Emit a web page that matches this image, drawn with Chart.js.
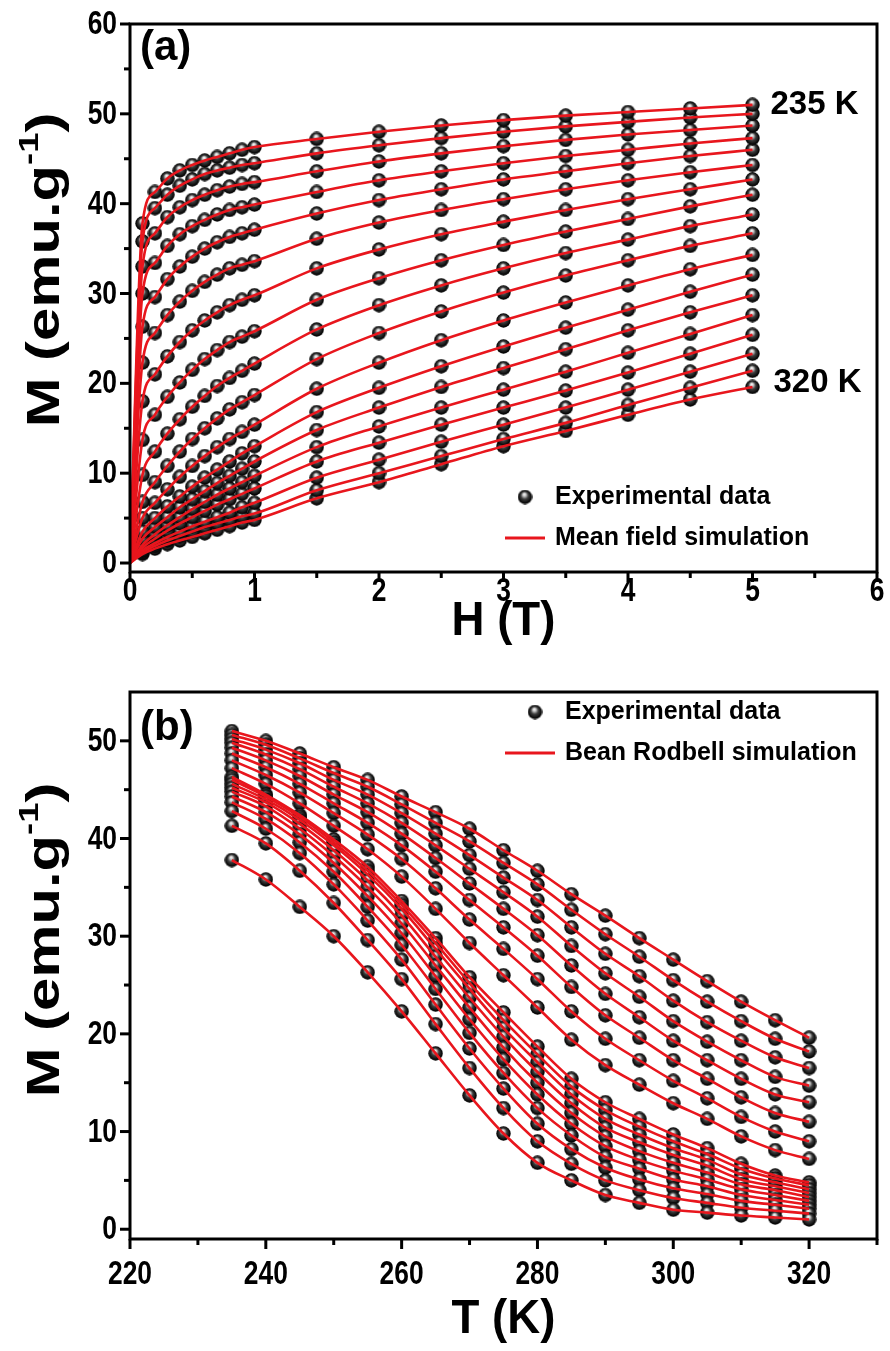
<!DOCTYPE html>
<html>
<head>
<meta charset="utf-8">
<script src="https://cdn.jsdelivr.net/npm/chart.js@4.4.0/dist/chart.umd.min.js"></script>
<style>
  html, body { margin: 0; padding: 0; background: #fff; }
  #wrap { position: relative; width: 890px; height: 1351px; }
  .panel { position: absolute; left: 0; width: 890px; }
  #panelA { top: 0; height: 650px; }
  #panelB { top: 650px; height: 701px; }
</style>
</head>
<body>
<div id="wrap">
  <div class="panel" id="panelA"><canvas id="chartA" width="890" height="650"></canvas></div>
  <div class="panel" id="panelB"><canvas id="chartB" width="890" height="701"></canvas></div>
</div>
<script>
    // applied field (T) and temperature (K) grids
    const fields = [0.1, 0.2, 0.3, 0.4, 0.5, 0.6, 0.7, 0.8, 0.9, 1.0, 1.5, 2.0, 2.5, 3.0, 3.5, 4.0, 4.5, 5.0];
    const temperatures = [235, 240, 245, 250, 255, 260, 265, 270, 275, 280, 285, 290, 295, 300, 305, 310, 315, 320];

    // magnetization (emu/g) for each isotherm, one value per field
    const m235 = [37.8, 41.3, 42.8, 43.7, 44.3, 44.8, 45.2, 45.6, 46.0, 46.3, 47.2, 48.0, 48.7, 49.3, 49.8, 50.2, 50.6, 51.0];
    const m240 = [35.8, 39.5, 41.0, 42.0, 42.7, 43.3, 43.7, 44.0, 44.3, 44.5, 45.6, 46.5, 47.3, 48.0, 48.6, 49.1, 49.6, 50.0];
    const m245 = [33.0, 36.7, 38.5, 39.6, 40.4, 41.0, 41.5, 41.9, 42.2, 42.4, 43.6, 44.7, 45.6, 46.4, 47.1, 47.7, 48.2, 48.7];
    const m250 = [30.0, 33.4, 35.3, 36.6, 37.5, 38.2, 38.8, 39.3, 39.6, 39.9, 41.3, 42.6, 43.6, 44.5, 45.3, 46.0, 46.7, 47.3];
    const m255 = [26.3, 29.6, 31.6, 33.0, 34.1, 35.0, 35.7, 36.3, 36.7, 37.1, 38.9, 40.4, 41.6, 42.7, 43.6, 44.5, 45.3, 46.0];
    const m260 = [22.3, 25.6, 27.6, 29.1, 30.3, 31.3, 32.1, 32.8, 33.2, 33.6, 36.1, 37.9, 39.3, 40.5, 41.6, 42.6, 43.5, 44.3];
    const m265 = [18.0, 21.0, 23.0, 24.6, 25.9, 27.0, 27.9, 28.7, 29.3, 29.8, 32.8, 34.9, 36.6, 38.0, 39.3, 40.5, 41.6, 42.7];
    const m270 = [13.7, 16.5, 18.5, 20.1, 21.5, 22.7, 23.7, 24.6, 25.2, 25.8, 29.3, 31.7, 33.7, 35.4, 36.9, 38.3, 39.7, 41.0];
    const m275 = [9.8, 12.4, 14.4, 16.0, 17.4, 18.6, 19.7, 20.6, 21.4, 22.2, 26.0, 28.7, 30.9, 32.8, 34.5, 36.0, 37.5, 38.8];
    const m280 = [6.8, 9.0, 10.8, 12.4, 13.8, 15.0, 16.1, 17.1, 17.9, 18.7, 22.7, 25.6, 28.0, 30.1, 32.0, 33.7, 35.3, 36.7];
    const m285 = [5.0, 6.7, 8.2, 9.6, 10.8, 11.9, 12.9, 13.8, 14.6, 15.4, 19.4, 22.3, 24.8, 27.0, 29.0, 30.9, 32.7, 34.3];
    const m290 = [3.5, 5.0, 6.3, 7.4, 8.5, 9.5, 10.4, 11.3, 12.2, 13.0, 16.8, 19.5, 21.9, 24.1, 26.2, 28.2, 30.2, 32.1];
    const m295 = [2.7, 4.0, 5.1, 6.2, 7.1, 8.0, 8.9, 9.7, 10.5, 11.3, 14.8, 17.3, 19.6, 21.7, 23.8, 25.9, 27.9, 29.8];
    const m300 = [2.0, 3.2, 4.2, 5.1, 6.0, 6.8, 7.6, 8.3, 9.0, 9.7, 12.9, 15.2, 17.3, 19.3, 21.3, 23.4, 25.5, 27.6];
    const m305 = [1.7, 2.7, 3.6, 4.4, 5.1, 5.8, 6.5, 7.1, 7.7, 8.3, 11.3, 13.4, 15.4, 17.3, 19.2, 21.2, 23.3, 25.4];
    const m310 = [1.4, 2.2, 2.9, 3.5, 4.1, 4.6, 5.1, 5.6, 6.2, 6.7, 9.5, 11.5, 13.5, 15.4, 17.3, 19.3, 21.3, 23.3];
    const m315 = [1.2, 1.9, 2.5, 3.0, 3.5, 4.0, 4.4, 4.8, 5.2, 5.5, 8.1, 10.0, 11.9, 13.8, 15.6, 17.6, 19.5, 21.4];
    const m320 = [1.0, 1.6, 2.1, 2.5, 2.9, 3.3, 3.7, 4.1, 4.5, 4.8, 7.2, 9.0, 11.0, 13.0, 14.7, 16.5, 18.2, 19.6];

    // axis ticks
    const hTicks = [0, 0.5, 1, 1.5, 2, 2.5, 3, 3.5, 4, 4.5, 5, 5.5, 6];
    const mTicksA = [0, 5, 10, 15, 20, 25, 30, 35, 40, 45, 50, 55, 60];
    const tTicks = [220, 230, 240, 250, 260, 270, 280, 290, 300, 310, 320, 330];
    const mTicksB = [0, 5, 10, 15, 20, 25, 30, 35, 40, 45, 50];

    const isotherms = [m235, m240, m245, m250, m255, m260, m265, m270, m275, m280, m285, m290, m295, m300, m305, m310, m315, m320];

    const RED = '#e8161d';
    const FONT = "'Liberation Sans', Arial, Helvetica, sans-serif";

    // glossy black sphere used as the point marker
    function makeBall(d) {
        const c = document.createElement('canvas');
        c.width = c.height = d;
        const g = c.getContext('2d');
        const r = d / 2;
        const grad = g.createRadialGradient(r * 0.9, r * 0.6, 0, r, r, r);
        grad.addColorStop(0, '#ffffff');
        grad.addColorStop(0.2, '#cfcfcf');
        grad.addColorStop(0.5, '#3c3c3c');
        grad.addColorStop(0.85, '#080808');
        grad.addColorStop(1, '#000000');
        g.fillStyle = grad;
        g.beginPath();
        g.arc(r, r, r - 0.3, 0, Math.PI * 2);
        g.fill();
        return c;
    }
    const ball = makeBall(15);

    function scatterSet(points) {
        return {
            data: points,
            showLine: false,
            pointStyle: ball,
            pointRadius: 7,
            order: 1
        };
    }
    function lineSet(points) {
        return {
            data: points,
            showLine: true,
            borderColor: RED,
            borderWidth: 2.6,
            pointRadius: 0,
            cubicInterpolationMode: 'monotone',
            fill: false,
            order: 0
        };
    }

    // squeezed or stretched text around the anchor point
    function scaledText(ctx, text, x, y, sx) {
        ctx.save();
        ctx.translate(x, y);
        ctx.scale(sx, 1);
        ctx.fillText(text, 0, 0);
        ctx.restore();
    }

    // frame, outward tick marks, tick labels, titles and in-plot text
    function framePlugin(cfg) {
        return {
            id: 'frame',
            afterDraw(chart) {
                const ctx = chart.ctx;
                const a = chart.chartArea;
                const xs = chart.scales.x, ys = chart.scales.y;
                ctx.save();
                ctx.strokeStyle = '#000';
                ctx.fillStyle = '#000';
                ctx.lineWidth = 3;
                ctx.strokeRect(a.left, a.top, a.right - a.left, a.bottom - a.top);

                ctx.font = 'bold 33px ' + FONT;
                ctx.textAlign = 'center';
                ctx.textBaseline = 'middle';
                cfg.xTicks.forEach(v => {
                    const x = xs.getPixelForValue(v);
                    const major = cfg.xMajor(v);
                    ctx.beginPath();
                    ctx.moveTo(x, a.bottom);
                    ctx.lineTo(x, a.bottom + (major ? 10 : 6));
                    ctx.stroke();
                    if (major) scaledText(ctx, String(v), x, a.bottom + cfg.xLabelDy, 0.8);
                });
                ctx.textAlign = 'right';
                cfg.yTicks.forEach(v => {
                    const y = ys.getPixelForValue(v);
                    const major = cfg.yMajor(v);
                    ctx.beginPath();
                    ctx.moveTo(a.left, y);
                    ctx.lineTo(a.left - (major ? 10 : 6), y);
                    ctx.stroke();
                    if (major) scaledText(ctx, String(v), a.left - 13, y + 1, 0.8);
                });

                // x title
                ctx.textAlign = 'center';
                ctx.font = 'bold 48px ' + FONT;
                scaledText(ctx, cfg.xTitle, (a.left + a.right) / 2, cfg.xTitleY, 0.95);

                // y title with superscript, stretched along its length
                ctx.save();
                ctx.translate(42, cfg.yTitleY);
                ctx.rotate(-Math.PI / 2);
                ctx.scale(1.3, 1);
                const main = 'M (emu.g', sup = '-1', close = ')';
                ctx.font = 'bold 46px ' + FONT;
                const w1 = ctx.measureText(main).width;
                const w3 = ctx.measureText(close).width;
                ctx.font = 'bold 28px ' + FONT;
                const w2 = ctx.measureText(sup).width;
                const x0 = -(w1 + w2 + w3) / 2;
                ctx.textAlign = 'left';
                ctx.textBaseline = 'alphabetic';
                ctx.font = 'bold 46px ' + FONT;
                ctx.fillText(main, x0, 17);
                ctx.font = 'bold 28px ' + FONT;
                ctx.fillText(sup, x0 + w1, -4);
                ctx.font = 'bold 46px ' + FONT;
                ctx.fillText(close, x0 + w1 + w2, 17);
                ctx.restore();

                // panel letter
                ctx.textAlign = 'left';
                ctx.textBaseline = 'middle';
                ctx.font = 'bold 42px ' + FONT;
                ctx.fillText(cfg.letter, a.left + 10, a.top + cfg.letterDy);

                // legend
                const lg = cfg.legend;
                ctx.font = 'bold 25px ' + FONT;
                ctx.drawImage(ball, lg.ballX - 7.5, lg.y1 - 7.5);
                ctx.fillText('Experimental data', lg.textX, lg.y1);
                ctx.strokeStyle = RED;
                ctx.lineWidth = 3;
                ctx.beginPath();
                ctx.moveTo(lg.lineX0, lg.y2);
                ctx.lineTo(lg.lineX1, lg.y2);
                ctx.stroke();
                ctx.fillText(lg.simText, lg.textX, lg.y2);

                if (cfg.extra) cfg.extra(chart, ctx);
                ctx.restore();
            }
        };
    }

    function baseOptions(o) {
        return {
            responsive: false,
            animation: false,
            layout: { padding: { top: o.padTop, right: 13, left: 0, bottom: 0 } },
            plugins: { legend: { display: false }, tooltip: { enabled: false } },
            scales: {
                x: {
                    type: 'linear',
                    min: o.xMin, max: o.xMax,
                    grid: { display: false, drawTicks: false },
                    border: { display: false },
                    ticks: { display: false },
                    afterFit: s => { s.height = o.xHeight; }
                },
                y: {
                    type: 'linear',
                    min: o.yMin, max: o.yMax,
                    grid: { display: false, drawTicks: false },
                    border: { display: false },
                    ticks: { display: false },
                    afterFit: s => { s.width = 130; }
                }
            }
        };
    }

    // (a) isotherms M(H)
    const setsA = [];
    isotherms.forEach(row => {
        const pts = fields.map((h, i) => ({ x: h, y: row[i] }));
        setsA.push(lineSet([{ x: 0, y: 0 }].concat(pts)));
    });
    isotherms.forEach(row => {
        setsA.push(scatterSet(fields.map((h, i) => ({ x: h, y: row[i] }))));
    });

    const cfgA = {
        xMin: 0, xMax: 6, yMin: -1, yMax: 60, padTop: 24, xHeight: 78,
        xTicks: hTicks, yTicks: mTicksA,
        xMajor: v => Number.isInteger(v), yMajor: v => v % 10 === 0,
        xLabelDy: 20, xTitle: 'H (T)', xTitleY: 622, yTitleY: 270,
        letter: '(a)', letterDy: 24,
        legend: { ballX: 525, textX: 555, y1: 497, lineX0: 505, lineX1: 545, y2: 538, simText: 'Mean field simulation' },
        extra(chart, ctx) {
            const xs = chart.scales.x, ys = chart.scales.y;
            ctx.fillStyle = '#000';
            ctx.font = 'bold 33px ' + FONT;
            ctx.textAlign = 'left';
            ctx.textBaseline = 'middle';
            const xEnd = xs.getPixelForValue(fields[fields.length - 1]) + 18;
            ctx.fillText(temperatures[0] + ' K', xEnd, ys.getPixelForValue(m235[m235.length - 1]));
            ctx.fillText(temperatures[temperatures.length - 1] + ' K', xEnd + 3, ys.getPixelForValue(m320[m320.length - 1]) - 4);
        }
    };

    new Chart(document.getElementById('chartA'), {
        type: 'scatter',
        data: { datasets: setsA },
        options: baseOptions(cfgA),
        plugins: [framePlugin(cfgA)]
    });

    // (b) isofield curves M(T)
    const setsB = [];
    fields.forEach((h, j) => {
        setsB.push(lineSet(temperatures.map((t, k) => ({ x: t, y: isotherms[k][j] }))));
    });
    fields.forEach((h, j) => {
        setsB.push(scatterSet(temperatures.map((t, k) => ({ x: t, y: isotherms[k][j] }))));
    });

    const cfgB = {
        xMin: 220, xMax: 330, yMin: -1, yMax: 55, padTop: 42, xHeight: 112,
        xTicks: tTicks, yTicks: mTicksB,
        xMajor: v => v % 20 === 0, yMajor: v => v % 10 === 0,
        xLabelDy: 36, xTitle: 'T (K)', xTitleY: 670, yTitleY: 290,
        letter: '(b)', letterDy: 36,
        legend: { ballX: 535, textX: 565, y1: 62, lineX0: 505, lineX1: 555, y2: 103, simText: 'Bean Rodbell simulation' }
    };

    new Chart(document.getElementById('chartB'), {
        type: 'scatter',
        data: { datasets: setsB },
        options: baseOptions(cfgB),
        plugins: [framePlugin(cfgB)]
    });
</script>
</body>
</html>
